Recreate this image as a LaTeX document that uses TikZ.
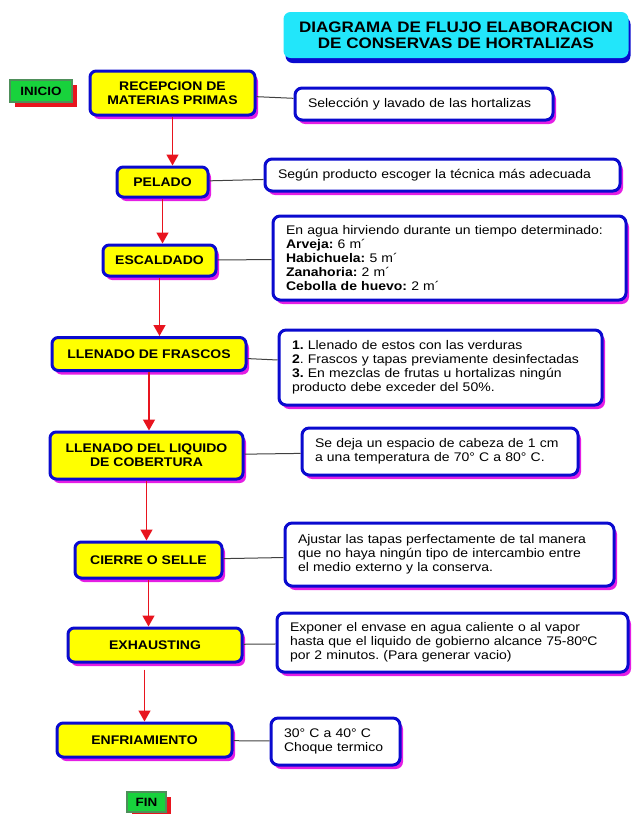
\documentclass[tikz,border=0pt]{standalone}
\usepackage{fontspec}
\setmainfont{Liberation Sans}[FakeStretch=1.12]
\usepackage{tikz}
\usetikzlibrary{shapes, arrows, arrows.meta, shadows, calc}
\definecolor{darkblue}{HTML}{0A0ACF}
\definecolor{stepyellow}{HTML}{FFFF00}
\definecolor{shadowpink}{HTML}{E41EE4}
\definecolor{titlecyan}{HTML}{22E6FA}
\definecolor{startgreen}{HTML}{18D23C}
\definecolor{startedge}{HTML}{4E8F5A}
\definecolor{flowred}{HTML}{E8141E}
\frenchspacing

\begin{document}
\begin{tikzpicture}[
      x=1pt, y=-1pt,
      stepbox/.style={
        align=center,
        inner sep=0pt,
        rounded corners=2.2mm,
        draw=darkblue,
        line width=3pt,
        fill=stepyellow,
        font=\fontsize{12.5}{14}\selectfont\bfseries,
        drop shadow={shadow xshift=3pt,shadow yshift=-4pt,opacity=1,fill=shadowpink},
      },
      notebox/.style={
        align=left,
        inner xsep=13pt,
        inner ysep=0pt,
        rounded corners=2.5mm,
        draw=darkblue,
        line width=3pt,
        fill=white,
        font=\fontsize{12.5}{14}\selectfont,
        drop shadow={shadow xshift=3pt,shadow yshift=-4pt,opacity=1,fill=shadowpink},
      },
      endbox/.style={
        inner sep=0pt,
        draw=startedge,
        line width=2pt,
        fill=startgreen,
        font=\fontsize{12}{13}\selectfont\bfseries,
        drop shadow={shadow xshift=5pt,shadow yshift=-5pt,opacity=1,fill=flowred},
      },
      titlebox/.style={
        align=center,
        inner sep=0pt,
        rounded corners=2.5mm,
        fill=titlecyan,
        font=\fontsize{15.2}{16}\selectfont\bfseries,
        drop shadow={shadow xshift=2pt,shadow yshift=-5pt,opacity=1,fill=darkblue},
      },
      flow/.style={draw=flowred, line width=1.5pt, -{Triangle[length=11pt,width=12pt]}},
      link/.style={draw=black!75, line width=1pt},
      ]
      \useasboundingbox (0,0) rectangle (632,814);
      \node[titlebox,minimum width=345pt,minimum height=46pt] (title) at (456,35) {DIAGRAMA DE FLUJO ELABORACION\\DE CONSERVAS DE HORTALIZAS};
      \node[endbox,minimum width=62pt,minimum height=22pt] (inicio) at (41,91) {INICIO};
      % pasos del proceso
      \node[stepbox,minimum width=165pt,minimum height=44pt] (recep) at (172.5,93) {RECEPCION DE\\MATERIAS PRIMAS};
      \node[stepbox,minimum width=91pt,minimum height=30pt] (pelado) at (162.5,182) {PELADO};
      \node[stepbox,minimum width=113pt,minimum height=31pt] (escal) at (159.5,260.5) {ESCALDADO};
      \node[stepbox,minimum width=194pt,minimum height=33pt] (frascos) at (149,354) {LLENADO DE FRASCOS};
      \node[stepbox,minimum width=193pt,minimum height=47pt] (liquido) at (146.5,455.5) {LLENADO DEL LIQUIDO\\DE COBERTURA};
      \node[stepbox,minimum width=147pt,minimum height=36pt] (cierre) at (148.5,560) {CIERRE O SELLE};
      \node[stepbox,minimum width=174pt,minimum height=34pt] (exhaust) at (155,645) {EXHAUSTING};
      \node[stepbox,minimum width=175pt,minimum height=34pt] (enfri) at (144.5,740) {ENFRIAMIENTO};
      \node[endbox,minimum width=39pt,minimum height=20pt] (fin) at (146.5,802) {FIN};
      % notas
      \node[notebox,text width=232pt,minimum height=32pt] (seltxt) at (424,104) {Selección y lavado de las hortalizas};
      \node[notebox,text width=329pt,minimum height=32pt] (peladotxt) at (442.5,175) {Según producto escoger la técnica más adecuada};
      \node[notebox,text width=327pt,minimum height=84pt] (escaltxt) at (449.5,258) {En agua hirviendo durante un tiempo determinado:\\\textbf{Arveja:} 6 m´\\\textbf{Habichuela:} 5 m´\\\textbf{Zanahoria:} 2 m´\\\textbf{Cebolla de huevo:} 2 m´};
      \node[notebox,text width=297pt,minimum height=75pt] (frascostxt) at (440.5,367.5) {\textbf{1.} Llenado de estos con las verduras\\\textbf{2}. Frascos y tapas previamente desinfectadas\\\textbf{3.} En mezclas de frutas u hortalizas ningún\\producto debe exceder del 50\%.};
      \node[notebox,text width=250pt,minimum height=47pt] (liquidotxt) at (440,451.5) {Se deja un espacio de cabeza de 1 cm\\a una temperatura de 70° C a 80° C.};
      \node[notebox,text width=303pt,minimum height=63pt] (cierretxt) at (449.5,554.5) {Ajustar las tapas perfectamente de tal manera\\que no haya ningún tipo de intercambio entre\\el medio externo y la conserva.};
      \node[notebox,text width=325pt,minimum height=59pt] (exhausttxt) at (452.5,642.5) {Exponer el envase en agua caliente o al vapor\\hasta que el liquido de gobierno alcance 75-80ºC\\por 2 minutos. (Para generar vacio)};
      \node[notebox,text width=103pt,minimum height=47pt] (enfritxt) at (335.5,741.5) {30° C a 40° C\\Choque termico};
      % flechas
      \draw[flow] (recep.south) -- (recep.south |- pelado.north);
      \draw[flow] (pelado.south) -- (pelado.south |- escal.north);
      \draw[flow] (escal.south) -- (escal.south |- frascos.north);
      \draw[flow] (frascos.south) -- (frascos.south |- liquido.north);
      \draw[flow] (liquido.south) -- (liquido.south |- cierre.north);
      \draw[flow] (cierre.south) -- (cierre.south |- exhaust.north);
      \draw[flow,shorten <=6pt] (enfri.north |- exhaust.south) -- (enfri.north);
      % enlaces a las notas
      \draw[link] (recep) -- (seltxt);
      \draw[link] (pelado) -- (peladotxt);
      \draw[link] (escal) -- (escaltxt);
      \draw[link] (frascos) -- (frascostxt);
      \draw[link] (liquido) -- (liquidotxt);
      \draw[link] (cierre) -- (cierretxt);
      \draw[link] (exhaust) -- (exhausttxt);
      \draw[link] (enfri) -- (enfritxt);
    \end{tikzpicture}
\end{document}
